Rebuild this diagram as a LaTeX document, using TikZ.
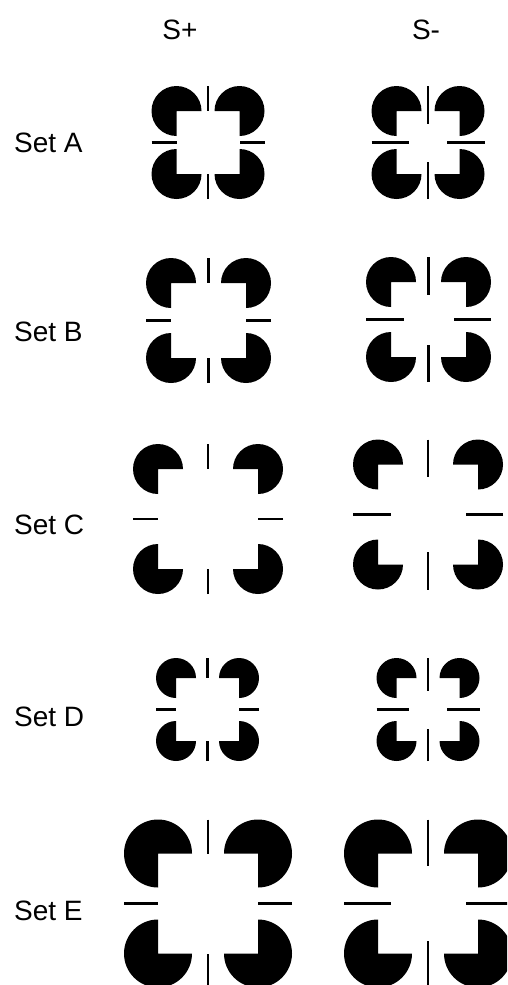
\documentclass[tikz,border=0pt]{standalone}
\usepackage{fontspec}
\setmainfont{Liberation Sans}
\usetikzlibrary{positioning}

% one stimulus: centre x, centre y, half spacing, radius, overshoot of the bars
\newcommand{\kstim}[5]{%
  \begin{scope}[shift={(#1,#2)}]
    \foreach \dx/\dy/\a in {-1/1/270,1/1/180,-1/-1/0,1/-1/90}
      \fill ({\dx*#3},{\dy*#3}) -- ++(\a+90:#4)
        arc[start angle=\a+90, delta angle=270, radius=#4] -- cycle;
    \draw[bar] (0,{#3+#4}) -- (0,{#3-#5});
    \draw[bar] (0,{-#3-#4}) -- (0,{-#3+#5});
    \draw[bar] ({-#3-#4},0) -- ({-#3+#5},0);
    \draw[bar] ({#3+#4},0) -- ({#3-#5},0);
  \end{scope}}

\begin{document}
\begin{tikzpicture}[x=1pt,y=1pt,
    bar/.style={line width=2.9pt},
    lab/.style={font=\fontsize{28}{32}\selectfont, inner sep=0pt}]
  \useasboundingbox (0,0) rectangle (507,-985);
  \clip (0,0) rectangle (507,-985);

  \node[lab] (splus) at (180,-30) {S+};
  \node[lab] (sminus) at (426,-30) {S-};

  \node[lab, anchor=west] (setA) at (14,-143) {Set A};
  \node[lab, anchor=west] (setB) at (14,-332) {Set B};
  \node[lab, anchor=west] (setC) at (14,-525) {Set C};
  \node[lab, anchor=west] (setD) at (14,-717) {Set D};
  \node[lab, anchor=west] (setE) at (14,-911) {Set E};

  % S+ column
  \kstim{208}{-142.5}{31.5}{25}{0}
  \kstim{208.5}{-320.5}{37.5}{25}{0}
  \kstim{208}{-519}{50}{25}{0}
  \kstim{207.5}{-709.5}{31.5}{20}{0}
  \kstim{208}{-903.5}{50}{34}{0}

  % S- column
  \kstim{428}{-142.5}{31.5}{25}{12.5}
  \kstim{428.5}{-319.5}{37.5}{25}{12.5}
  \kstim{428}{-514.5}{50}{25}{12.5}
  \kstim{428}{-709.5}{31.5}{20}{12.5}
  \kstim{428}{-903.5}{50}{34}{12.5}
\end{tikzpicture}
\end{document}
